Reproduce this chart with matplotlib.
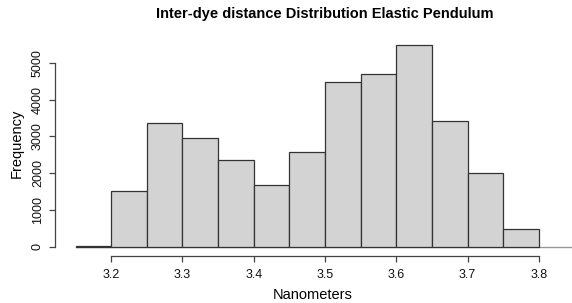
import numpy as np
import matplotlib
matplotlib.use('Agg')
import matplotlib.pyplot as plt

# histogram of inter-dye distances
bin_edges = [3.15, 3.20, 3.25, 3.30, 3.35, 3.40, 3.45, 3.50, 3.55, 3.60, 3.65, 3.70, 3.75, 3.80]
counts = [30, 1508, 3358, 2950, 2368, 1688, 2578, 4474, 4692, 5498, 3413, 1998, 482]
x_ticks = [3.2, 3.3, 3.4, 3.5, 3.6, 3.7, 3.8]
y_ticks = [0, 1000, 2000, 3000, 4000, 5000]

plt.rcParams['font.family'] = ['Liberation Sans', 'DejaVu Sans']

W, H = 572, 303
fig = plt.figure(figsize=(W / 100, H / 100), dpi=100)
# axes box in pixels: left 55, right 572, bottom 256, top 40
ax = fig.add_axes([55 / W, (H - 256) / H, (W - 55) / W, (256 - 40) / H])

px_per_unit = 712.8
px_per_count = 183.7 / 5000
ax.set_xlim(3.15 - (75.5 - 55) / px_per_unit, 3.15 + (572 - 75.5) / px_per_unit)
ax.set_ylim(-(256 - 246.7) / px_per_count, (246.7 - 40) / px_per_count)

edges = np.array(bin_edges)
ax.plot([edges[0], ax.get_xlim()[1]], [0, 0], color='#999999', lw=1, zorder=1)
ax.bar(edges[:-1], counts, width=np.diff(edges), align='edge',
       color='#d3d3d3', edgecolor='#333333', linewidth=0.9, zorder=2)

for s in ['top', 'right']:
    ax.spines[s].set_visible(False)
ax.spines['left'].set_bounds(0, 5000)
ax.spines['bottom'].set_bounds(3.2, 3.8)
for s in ['left', 'bottom']:
    ax.spines[s].set_color('#444444')
    ax.spines[s].set_linewidth(0.9)

ax.set_xticks(x_ticks)
ax.set_xticklabels([f'{v:.1f}' for v in x_ticks])
ax.set_yticks(y_ticks)
ax.set_yticklabels([str(v) for v in y_ticks], rotation=90, va='center')
ax.tick_params(axis='both', length=4, width=0.9, color='#444444', labelsize=9, labelcolor='#111111')
ax.tick_params(axis='x', pad=5)
ax.tick_params(axis='y', pad=4)

fig.text(325 / W, 1 - 14 / H, 'Inter-dye distance Distribution Elastic Pendulum',
         ha='center', va='center', fontsize=10.5, fontweight='bold')
fig.text(313 / W, 1 - 295 / H, 'Nanometers', ha='center', va='center', fontsize=10.5)
fig.text(17 / W, 1 - 143 / H, 'Frequency', ha='center', va='center', rotation=90, fontsize=10.5)

fig.savefig('out.png', dpi=100)
